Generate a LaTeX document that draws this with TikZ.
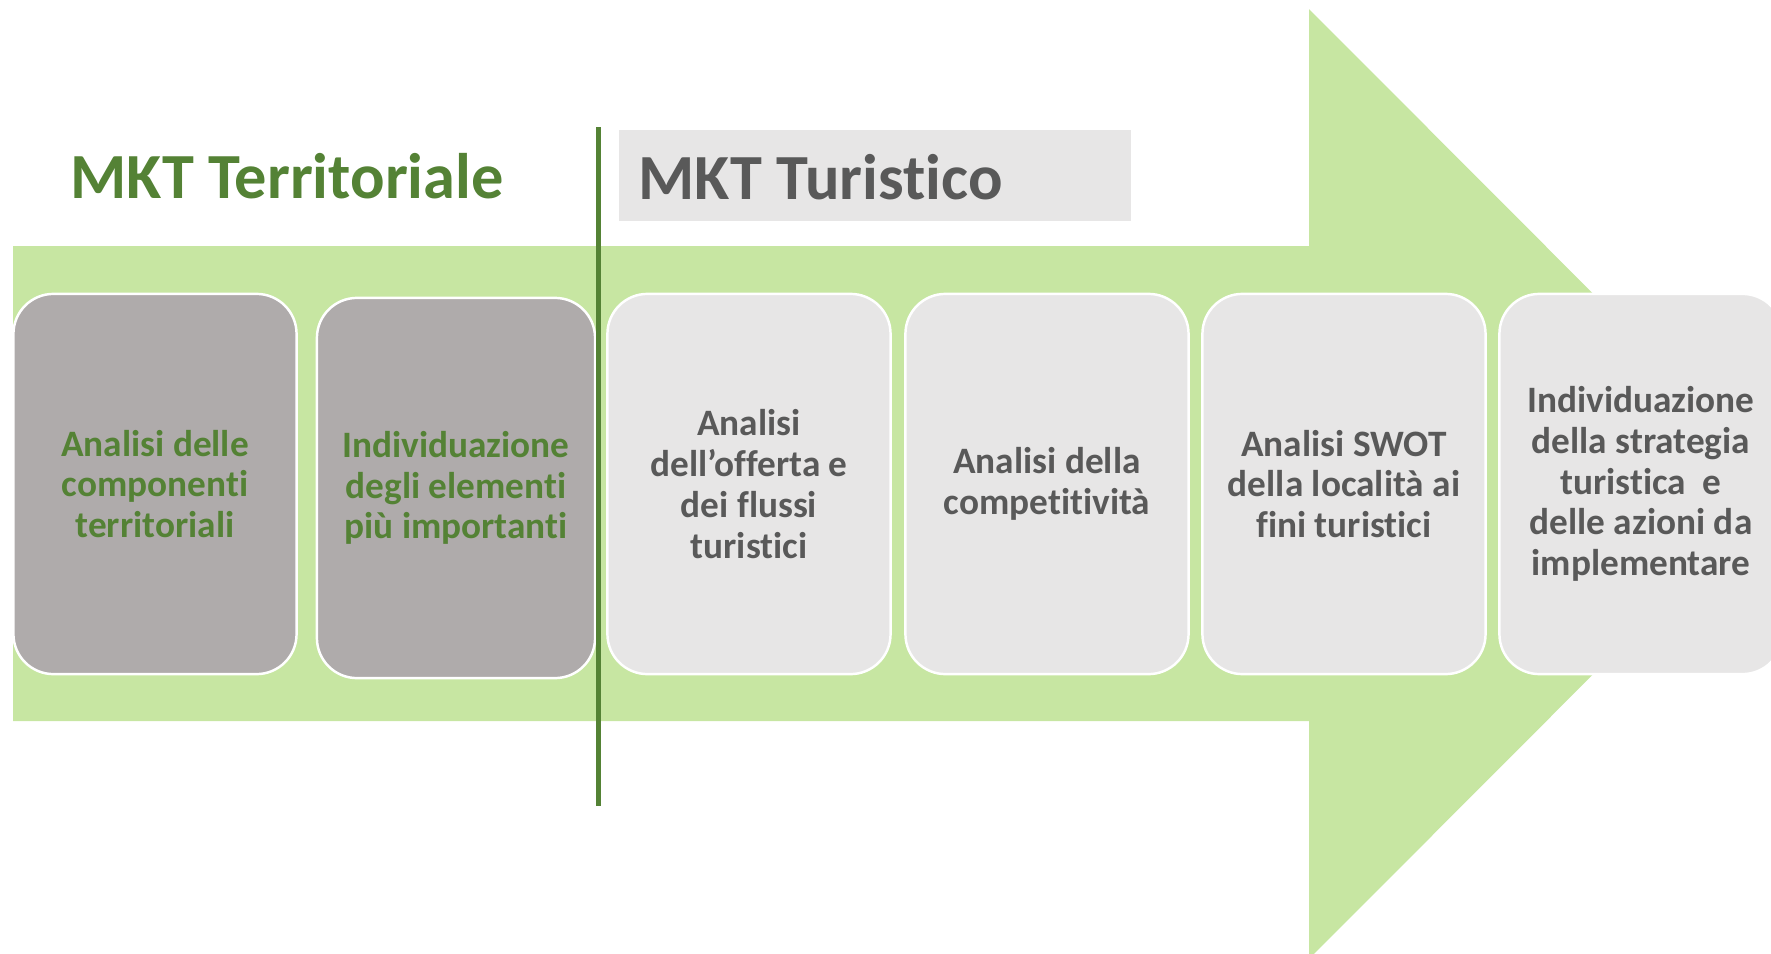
\documentclass[tikz,border=0pt]{standalone}
\usepackage{fontspec}
\setmainfont{Carlito}[Ligatures=NoCommon]
\definecolor{arrowgreen}{RGB}{199,230,162}
\definecolor{textgreen}{RGB}{84,130,53}
\definecolor{textgrey}{RGB}{89,89,89}
\definecolor{boxdark}{RGB}{175,171,171}
\definecolor{boxlight}{RGB}{231,230,230}
\begin{document}
\begin{tikzpicture}[x=0.01cm, y=-0.01cm]
    \useasboundingbox (0,0) rectangle (1771,954);
    \clip (0,0) rectangle (1771,954);

    % big arrow behind everything
    \fill[arrowgreen] (13,246) -- (1309,246) -- (1309,9) -- (1783,484) -- (1309,959) -- (1309,721) -- (13,721) -- cycle;

    \begin{scope}[every node/.style={anchor=base west, inner sep=0pt, font=\bfseries\fontsize{18.3pt}{22pt}\selectfont}]
        \fill[boxlight] (619,130) rectangle (1131,221);
        \node[text=textgreen] (terr) at (70,198) {MKT Territoriale};
        \node[text=textgrey] (tur) at (638,199) {MKT Turistico};
    \end{scope}

    \begin{scope}[every node/.style={draw=white, line width=0.7pt, rounded corners=0.4cm, minimum height=3.8cm, minimum width=2.83cm, align=center, font=\bfseries\fontsize{10.6pt}{11.6pt}\selectfont}]
        \node[fill=boxdark, text=textgreen] (1) at (155,484) {Analisi delle\\componenti\\territoriali};
        \node[fill=boxdark, text=textgreen, minimum width=2.78cm] (2) at (456,488) {Individuazione\\degli elementi\\più importanti};
        \node[fill=boxlight, text=textgrey] (3) at (749,484) {Analisi\\dell’offerta e\\dei flussi\\turistici};
        \node[fill=boxlight, text=textgrey] (4) at (1047,484) {Analisi della\\competitività};
        \node[fill=boxlight, text=textgrey] (5) at (1344,484) {Analisi SWOT\\della località ai\\fini turistici};
        \node[fill=boxlight, text=textgrey] (6) at (1641,484) {Individuazione\\della strategia\\turistica\ \ e\\delle azioni da\\implementare};
    \end{scope}

    % divider between the two phases
    \draw[textgreen, line width=0.05cm] (598,127) -- (598,806);
\end{tikzpicture}
\end{document}
